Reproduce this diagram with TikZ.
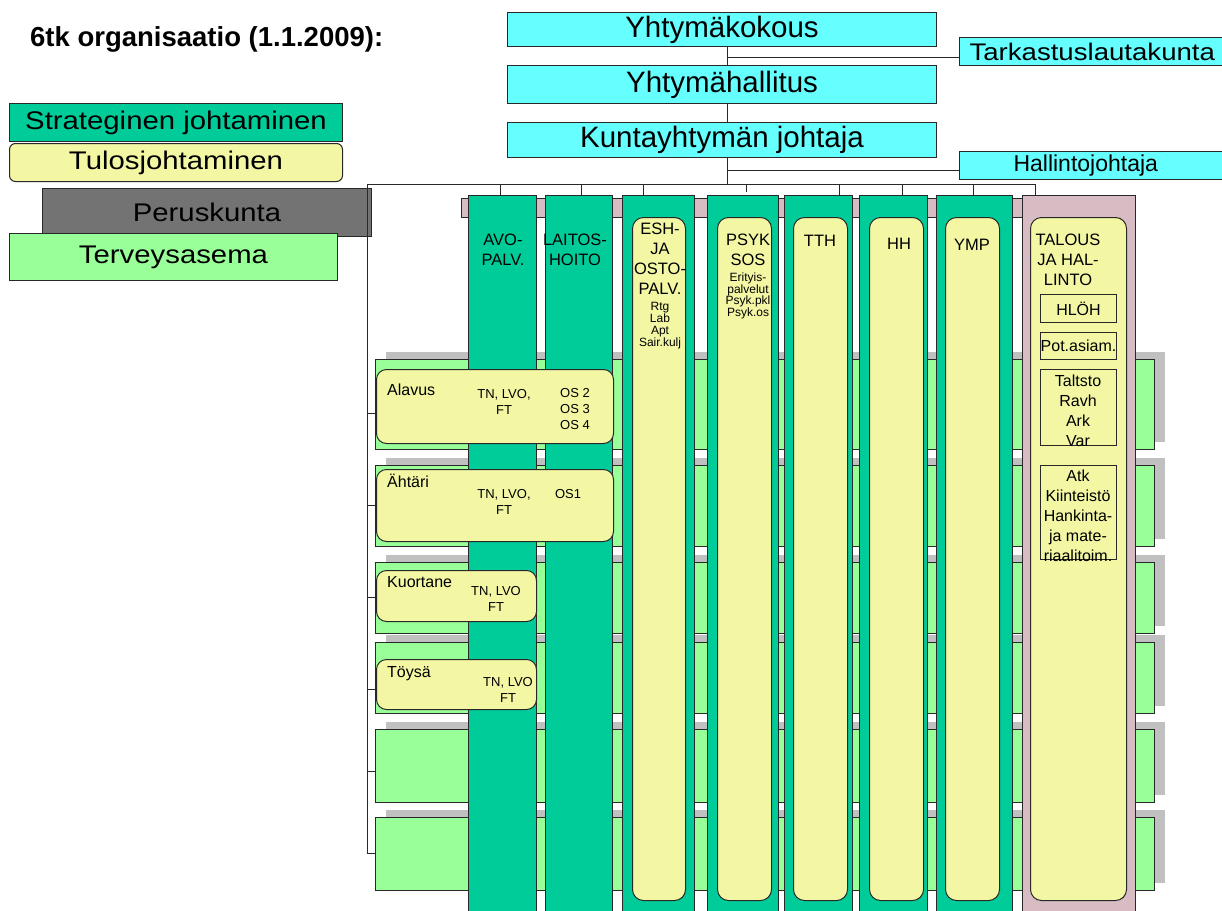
\documentclass[tikz,border=0pt]{standalone}
\usepackage{fontspec}
\setmainfont{Liberation Sans}
\newfontfamily\widefont[FakeStretch=1.15]{Liberation Sans}
\usetikzlibrary{shadows}
\definecolor{linec}{RGB}{40,40,40}
\definecolor{cyanc}{RGB}{102,255,255}
\definecolor{colgreen}{RGB}{0,204,153}
\definecolor{lgreen}{RGB}{153,255,153}
\definecolor{yelc}{RGB}{243,247,163}
\definecolor{pinkc}{RGB}{216,188,196}
\definecolor{dgray}{RGB}{115,115,115}
\definecolor{sgray}{RGB}{192,192,192}
\newcommand\fsz[2]{\fontsize{#1}{#2}\selectfont}
\begin{document}
\begin{tikzpicture}[x=1pt,y=-1pt,
  box/.style={draw=linec,line width=1pt,inner sep=0pt,anchor=north west},
  cyanbox/.style={box,fill=cyanc,font=\fsz{29.5}{32}},
  sidebox/.style={box,fill=cyanc},
  legbox/.style={box,font=\widefont\fsz{25.5}{30}},
  rowbox/.style={box,fill=lgreen,drop shadow={shadow xshift=10pt,shadow yshift=8pt,fill=sgray,opacity=1}},
  colbox/.style={box,fill=colgreen},
  innerbox/.style={box,fill=yelc,rounded corners=11pt},
  munbox/.style={box,fill=yelc,rounded corners=10pt},
  subbox/.style={box,font=\fsz{16}{20}},
  coltext/.style={inner sep=0pt,align=center,font=\fsz{16.5}{20}},
  smalltext/.style={inner sep=0pt,align=center,font=\fsz{12}{12.3}},
  muntext/.style={inner sep=0pt,align=center,font=\fsz{13}{16}},
  munname/.style={inner sep=0pt,anchor=west,font=\fsz{16}{18}},
  conn/.style={draw=linec,line width=1pt}
]
\clip (0,0) rectangle (1222,910);

% title
\node[anchor=base west,inner sep=0pt,font=\bfseries\fsz{27.5}{30}] (title) at (30,46) {6tk organisaatio (1.1.2009):};

% legend
\node[legbox,fill=colgreen,minimum width=333pt,minimum height=38pt] (strat) at (9,103) {Strateginen johtaminen};
\node[legbox,fill=yelc,rounded corners=6pt,minimum width=333pt,minimum height=38pt] (tulos) at (9,143) {Tulosjohtaminen};
\node[legbox,fill=dgray,minimum width=329pt,minimum height=48pt] (perus) at (42,188) {Peruskunta};
\node[legbox,fill=lgreen,minimum width=328pt,minimum height=47pt] (terv) at (9,233) {Terveysasema};

% top hierarchy
\node[cyanbox,minimum width=429pt,minimum height=34pt] (yk) at (507,12) {Yhtymäkokous};
\node[cyanbox,minimum width=429pt,minimum height=38pt] (yh) at (507,65) {Yhtymähallitus};
\node[cyanbox,minimum width=429pt,minimum height=35pt] (kj) at (507,122) {Kuntayhtymän johtaja};
\node[sidebox,minimum width=265pt,minimum height=28pt,text width=245pt,align=left,inner xsep=10pt,font=\widefont\fsz{24}{26}] (tark) at (959,37) {Tarkastuslautakunta};
\node[sidebox,minimum width=265pt,minimum height=28pt,text width=245pt,align=left,inner xsep=10pt,font=\fsz{23}{26}] (hj) at (959,151) {\hspace*{44pt}Hallintojohtaja};

\coordinate (sp) at (727,184);
\coordinate (t1) at (727,57);
\coordinate (h1) at (727,170);
\draw[conn] (yk.south -| sp) -- (yh.north -| sp);
\draw[conn] (yh.south -| sp) -- (kj.north -| sp);
\draw[conn] (kj.south -| sp) -- (sp);
\draw[conn] (t1) -- (t1 -| tark.west);
\draw[conn] (h1) -- (h1 -| hj.west);

% bus
\coordinate (busL) at (367,184);
\coordinate (busR) at (1035,184);
\draw[conn] (busL) -- (busR);
\foreach \xx in {500,581,643,839,902,973,1035} {\draw[conn] (\xx,184) -- (\xx,195);}
\draw[conn] (746,184) -- (746,192);
\draw[conn] (busL) -- (367,853);
\foreach \yy in {413,505,597,689,771,853} {\draw[conn] (367,\yy) -- (375,\yy);}

% rows
\node[rowbox,minimum width=779pt,minimum height=90pt] (r1) at (375,359) {};
\node[rowbox,minimum width=779pt,minimum height=81pt] (r2) at (375,465) {};
\node[rowbox,minimum width=779pt,minimum height=71pt] (r3) at (375,562) {};
\node[rowbox,minimum width=779pt,minimum height=71pt] (r4) at (375,642) {};
\node[rowbox,minimum width=779pt,minimum height=73pt] (r5) at (375,729) {};
\node[rowbox,minimum width=779pt,minimum height=73pt] (r6) at (375,817) {};

% pink strip
\node[box,fill=pinkc,minimum width=561pt,minimum height=19pt] (strip) at (461,198) {};

% columns
\node[colbox,minimum width=68pt,minimum height=720pt] (avo) at (468,195) {};
\node[colbox,minimum width=67pt,minimum height=720pt] (lait) at (545,195) {};
\node[colbox,minimum width=72pt,minimum height=720pt] (esh) at (622,195) {};
\node[colbox,minimum width=71pt,minimum height=720pt] (psyk) at (707,195) {};
\node[colbox,minimum width=68pt,minimum height=720pt] (tth) at (784,195) {};
\node[colbox,minimum width=68pt,minimum height=720pt] (hh) at (859,195) {};
\node[colbox,minimum width=76pt,minimum height=720pt] (ymp) at (936,195) {};
\node[box,fill=pinkc,minimum width=113pt,minimum height=720pt] (tal) at (1022,195) {};

% inner boxes
\node[innerbox,minimum width=53pt,minimum height=683pt] (eshi) at (632,217) {};
\node[innerbox,minimum width=54pt,minimum height=683pt] (psyki) at (717,217) {};
\node[innerbox,minimum width=54pt,minimum height=683pt] (tthi) at (793,217) {};
\node[innerbox,minimum width=54pt,minimum height=683pt] (hhi) at (869,217) {};
\node[innerbox,minimum width=54pt,minimum height=683pt] (ympi) at (945,217) {};
\node[innerbox,minimum width=96pt,minimum height=683pt] (tali) at (1030,217) {};

% column texts
\node[coltext] (avot) at (503,250) {AVO-\\PALV.};
\node[coltext] (laitt) at (575,250) {LAITOS-\\HOITO};
\node[coltext] (esht) at (660,259) {ESH-\\JA\\OSTO-\\PALV.};
\node[smalltext,font=\fsz{12}{12}] (eshs) at (660,326) {Rtg\\Lab\\Apt\\Sair.kulj};
\begin{scope}
\clip (717,217) rectangle (771,900);
\node[coltext] (psykt) at (748,249.5) {PSYK\\SOS};
\node[smalltext,font=\fsz{12}{11.5}] (psyks) at (748,296) {Erityis-\\palvelut\\Psyk.pkl\\Psyk.os};
\end{scope}
\node[coltext] (ttht) at (820,241) {TTH};
\node[coltext] (hht) at (899,244) {HH};
\node[coltext] (ympt) at (972,245) {YMP};
\node[coltext] (talt) at (1068,260) {TALOUS\\JA HAL-\\LINTO};

% talous sub boxes
\node[subbox,minimum width=76pt,minimum height=28pt] (hloh) at (1040,294) {HLÖH};
\node[subbox,minimum width=76pt,minimum height=27pt] (pot) at (1040,332) {Pot.asiam.};
\node[subbox,minimum width=76pt,minimum height=76pt] (taltsto) at (1040,369) {};
\node[coltext,font=\fsz{16}{20}] (taltstot) at (1078,411) {Taltsto\\Ravh\\Ark\\Var};
\node[subbox,minimum width=76pt,minimum height=94pt] (atk) at (1040,465) {};
\node[coltext,font=\fsz{16}{20}] (atkt) at (1078,516) {Atk\\Kiinteistö\\Hankinta-\\ja mate-\\riaalitoim.};

% municipality boxes
\node[munbox,minimum width=237pt,minimum height=74pt] (alavus) at (376,369) {};
\node[munname] (alavusn) at (387,390) {Alavus};
\node[muntext] (alavust) at (504,401.5) {TN, LVO,\\FT};
\node[muntext] (alavuso) at (575,409) {OS 2\\OS 3\\OS 4};

\node[munbox,minimum width=237pt,minimum height=72pt] (ahtari) at (376,469) {};
\node[munname] (ahtarin) at (387,481) {Ähtäri};
\node[muntext] (ahtarit) at (504,502) {TN, LVO,\\FT};
\node[muntext] (ahtario) at (568,494) {OS1};

\node[munbox,minimum width=160pt,minimum height=51pt] (kuort) at (376,570) {};
\node[munname] (kuortn) at (387,582) {Kuortane};
\node[muntext] (kuortt) at (496,599) {TN, LVO\\FT};

\node[munbox,minimum width=160pt,minimum height=50pt] (toysa) at (376,659) {};
\node[munname] (toysan) at (387,674) {Töysä};
\node[muntext] (toysat) at (508,690) {TN, LVO\\FT};
\end{tikzpicture}
\end{document}
